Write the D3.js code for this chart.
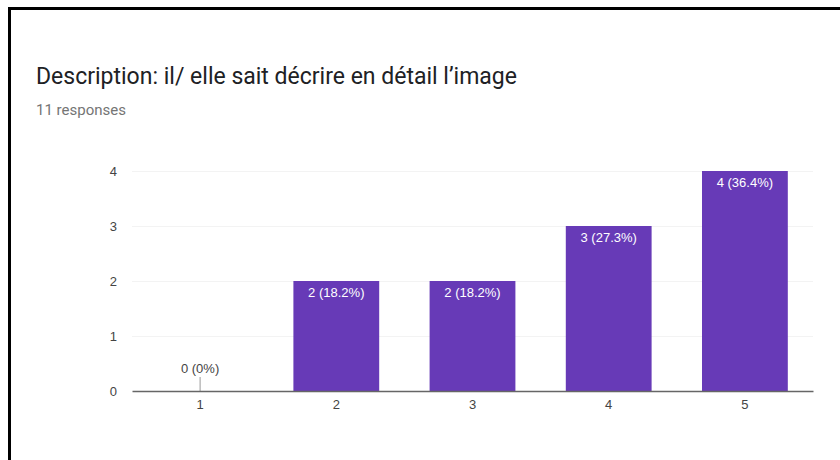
<!doctype html>
<html lang="en">

<head>
    <meta charset="utf-8">
    <title>Description: il/ elle sait décrire en détail l'image</title>
    <script src="https://cdn.jsdelivr.net/npm/d3@7"></script>
    <style>
        body {
            margin: 0;
            background: #ffffff;
        }

        svg {
            display: block;
        }
    </style>
</head>

<body>
    <svg></svg>

    <script>
        var width = 840;
        var height = 460;

        // data
        var categories = ['1', '2', '3', '4', '5'];
        var counts = [0, 2, 2, 3, 4];
        var percents = ['0%', '18.2%', '18.2%', '27.3%', '36.4%'];
        var yTicks = [0, 1, 2, 3, 4];
        var totalResponses = 11;

        var plot = { left: 132, right: 813, top: 171, bottom: 391 };

        var xScale = d3.scaleBand()
            .domain(categories)
            .range([plot.left, plot.right])
            .paddingInner(0.37)
            .paddingOuter(0.185);

        var yScale = d3.scaleLinear()
            .domain([0, 4])
            .range([plot.bottom, plot.top]);

        var svg = d3.select('svg').attr('width', width).attr('height', height);

        // frame (left and top edges only visible)
        svg.append('rect')
            .attr('x', 0).attr('y', 0)
            .attr('width', width).attr('height', height)
            .attr('fill', '#ffffff');
        svg.append('line')
            .attr('x1', 9.5).attr('x2', 9.5)
            .attr('y1', 7).attr('y2', height)
            .attr('stroke', '#000').attr('stroke-width', 3);
        svg.append('line')
            .attr('x1', 8).attr('x2', width)
            .attr('y1', 8.5).attr('y2', 8.5)
            .attr('stroke', '#000').attr('stroke-width', 3);

        // title
        svg.append('text')
            .attr('x', 36)
            .attr('y', 84)
            .attr('font-family', 'Roboto, sans-serif')
            .attr('font-size', 23)
            .attr('fill', '#202124')
            .text('Description: il/ elle sait décrire en détail l\u2019image');

        svg.append('text')
            .attr('x', 36)
            .attr('y', 115)
            .attr('font-family', 'Roboto, sans-serif')
            .attr('font-size', 15)
            .attr('fill', '#757575')
            .text(totalResponses + ' responses');

        // gridlines
        svg.append('g')
            .selectAll('line')
            .data(yTicks.slice(1))
            .enter()
            .append('line')
            .attr('x1', plot.left)
            .attr('x2', plot.right)
            .attr('y1', function (d) { return yScale(d) + 0.5; })
            .attr('y2', function (d) { return yScale(d) + 0.5; })
            .attr('stroke', '#f3f3f3');

        // y axis labels
        var yAxis = d3.axisLeft(yScale).tickValues(yTicks).tickFormat(d3.format('d')).tickSize(0).tickPadding(0);
        var gy = svg.append('g')
            .attr('class', 'axis-y')
            .attr('transform', 'translate(117, 0)')
            .call(yAxis);
        gy.select('.domain').remove();
        gy.selectAll('text')
            .attr('font-family', 'Arial, "Liberation Sans", sans-serif')
            .attr('font-size', 13)
            .attr('fill', '#444');

        // bars
        svg.append('g')
            .selectAll('rect')
            .data(counts)
            .enter()
            .append('rect')
            .attr('x', function (d, i) { return xScale(categories[i]); })
            .attr('y', function (d) { return yScale(d); })
            .attr('width', xScale.bandwidth())
            .attr('height', function (d) { return plot.bottom - yScale(d); })
            .attr('fill', '#673ab7');

        // zero-value marker
        svg.append('g')
            .selectAll('line')
            .data(counts.filter(function (d) { return d === 0; }))
            .enter()
            .append('line')
            .attr('x1', function (d) { return xScale(categories[counts.indexOf(d)]) + xScale.bandwidth() / 2; })
            .attr('x2', function (d) { return xScale(categories[counts.indexOf(d)]) + xScale.bandwidth() / 2; })
            .attr('y1', yScale(0) - 14)
            .attr('y2', yScale(0))
            .attr('stroke', '#999');

        // bar labels
        svg.append('g')
            .selectAll('text')
            .data(counts)
            .enter()
            .append('text')
            .attr('x', function (d, i) { return xScale(categories[i]) + xScale.bandwidth() / 2; })
            .attr('y', function (d) { return d === 0 ? yScale(0) - 18 : yScale(d) + 16; })
            .attr('text-anchor', 'middle')
            .attr('font-family', 'Arial, "Liberation Sans", sans-serif')
            .attr('font-size', 13)
            .attr('fill', function (d) { return d === 0 ? '#444' : '#ffffff'; })
            .text(function (d, i) { return d + ' (' + percents[i] + ')'; });

        // x axis
        var xAxis = d3.axisBottom(xScale).tickSize(0).tickPadding(9);
        var gx = svg.append('g')
            .attr('class', 'axis-x')
            .attr('transform', 'translate(0, ' + plot.bottom + ')')
            .call(xAxis);
        gx.select('.domain')
            .attr('stroke', '#666')
            .attr('stroke-width', 1.5);
        gx.selectAll('text')
            .attr('font-family', 'Arial, "Liberation Sans", sans-serif')
            .attr('font-size', 13)
            .attr('fill', '#444');
    </script>

</body>

</html>
